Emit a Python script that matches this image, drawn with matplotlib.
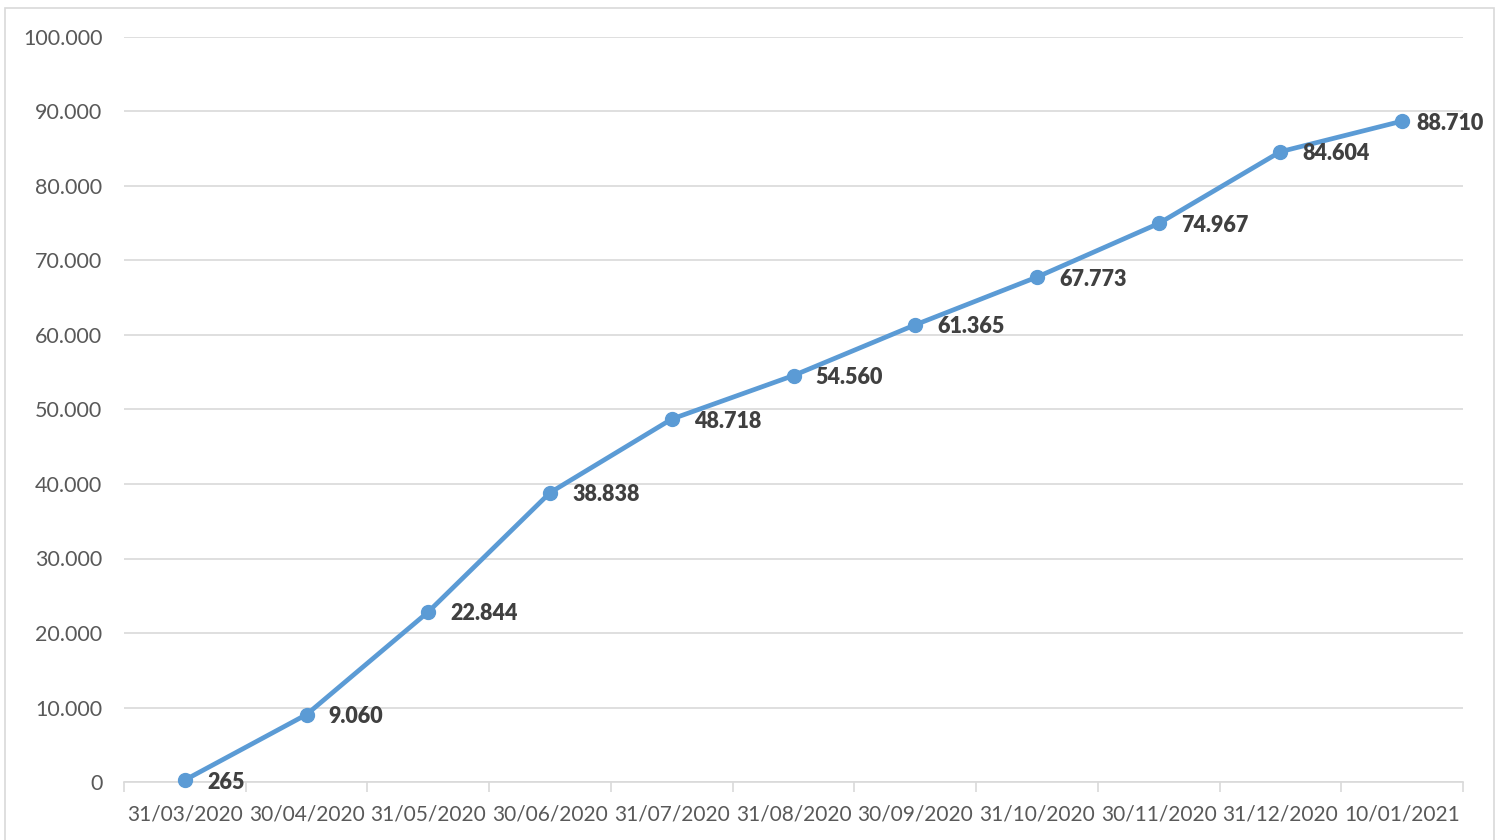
import matplotlib.pyplot as plt
from matplotlib.patches import Rectangle
from matplotlib.ticker import FuncFormatter, FixedLocator

# cumulative totals per date
dates = ['31/03/2020', '30/04/2020', '31/05/2020', '30/06/2020', '31/07/2020',
         '31/08/2020', '30/09/2020', '31/10/2020', '30/11/2020', '31/12/2020',
         '10/01/2021']
totals = [265, 9060, 22844, 38838, 48718, 54560, 61365, 67773, 74967, 84604, 88710]

plt.rcParams['font.family'] = ['Lato', 'DejaVu Sans']

fig = plt.figure(figsize=(15.02, 8.4), dpi=100)
ax = fig.add_axes([124 / 1502, 58 / 840, (1463 - 124) / 1502, (782 - 37) / 840])

# outer chart border
fig.patches.append(Rectangle((5 / 1502, -0.05), 1489 / 1502, 1.05 - 8 / 840,
                             transform=fig.transFigure, fill=False,
                             edgecolor='#D9D9D9', linewidth=1.2))

x = list(range(len(dates)))
ax.plot(x, totals, color='#5B9BD5', linewidth=3.4, marker='o', markersize=10,
        solid_capstyle='round', zorder=3, clip_on=False)

def fmt(v):
    return '{:,.0f}'.format(v).replace(',', '.')

for xi, v in zip(x, totals):
    # last label is pulled in so it stays inside the chart
    dx = 10.5 if xi == x[-1] else 16
    ax.annotate(fmt(v), (xi, v), xytext=(dx, -1.5), textcoords='offset points',
                ha='left', va='center', fontsize=15.5, fontweight='heavy',
                color='#404040', zorder=4)

ax.set_xlim(-0.5, len(dates) - 0.5)
ax.set_ylim(0, 100000)
ax.set_yticks(range(0, 100001, 10000))
ax.yaxis.set_major_formatter(FuncFormatter(lambda v, p: fmt(v)))
ax.grid(axis='y', color='#D9D9D9', linewidth=1.2)
ax.set_axisbelow(True)

ax.set_xticks(x)
ax.set_xticklabels(dates)
ax.xaxis.set_minor_locator(FixedLocator([i - 0.5 for i in range(len(dates) + 1)]))
ax.tick_params(axis='x', which='major', length=0, pad=16, labelsize=15, labelcolor='#595959')
ax.tick_params(axis='x', which='minor', length=7, width=1.2, color='#D9D9D9')
ax.tick_params(axis='y', length=0, pad=15.5, labelsize=15.5, labelcolor='#595959')

for s in ['top', 'right', 'left']:
    ax.spines[s].set_visible(False)
ax.spines['bottom'].set_color('#D9D9D9')
ax.spines['bottom'].set_linewidth(1.2)

fig.savefig('out.png', dpi=100)
